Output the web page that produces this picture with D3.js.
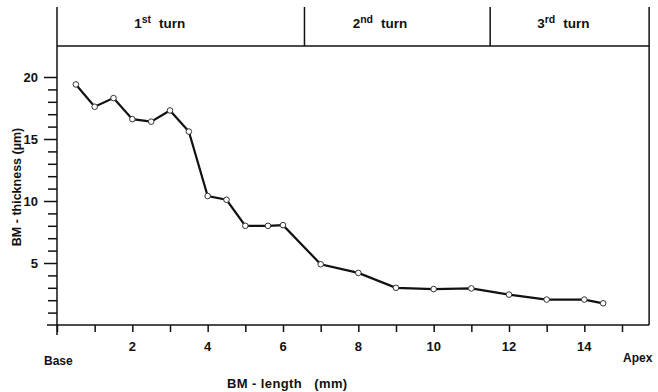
<!DOCTYPE html>
<html>
<head>
<meta charset="utf-8">
<script src="https://cdn.jsdelivr.net/npm/d3@7"></script>
<style>
  body { margin: 0; background: #fff; }
  text { font-family: "Liberation Sans", Arial, sans-serif; font-weight: bold; fill: #111; }
</style>
</head>
<body>
<svg width="658" height="392"></svg>
<script>
// data
const lengthMm = [0.5, 1, 1.5, 2, 2.5, 3, 3.5, 4, 4.5, 5, 5.6, 6, 7, 8, 9, 10, 11, 12, 13, 14, 14.5];
const thicknessUm = [19.4, 17.6, 18.3, 16.6, 16.4, 17.3, 15.6, 10.4, 10.1, 8.0, 8.0, 8.05, 4.9, 4.2, 3.0, 2.9, 2.95, 2.45, 2.05, 2.05, 1.75];

const xTickLabels = [2, 4, 6, 8, 10, 12, 14];
const yTickLabels = [5, 10, 15, 20];

// cochlear turns (band edges in mm)
const turnNames = ['1', '2', '3'];
const turnSuffix = ['st', 'nd', 'rd'];
const turnEdges = [0, 6.57, 11.5, 15.72];
const turnLabelAt = [2.05, 7.85, 12.75];

const svg = d3.select('svg');

const x = d3.scaleLinear().domain([0, 15]).range([57, 622]);
const y = d3.scaleLinear().domain([0, 20]).range([325, 77]);

const bandBottom = 46, bandTop = 7, xEnd = x(turnEdges[3]);

// frame
const frameG = svg.append('g').attr('stroke', '#111').attr('stroke-width', 1.5);
frameG.append('line').attr('x1', x(0) - 10).attr('x2', xEnd).attr('y1', y(0)).attr('y2', y(0));
frameG.append('line').attr('x1', x(0)).attr('x2', x(0)).attr('y1', bandTop).attr('y2', y(0) + 10);
frameG.append('line').attr('x1', xEnd).attr('x2', xEnd).attr('y1', bandTop).attr('y2', y(0));
frameG.append('line').attr('x1', x(0)).attr('x2', xEnd).attr('y1', bandBottom).attr('y2', bandBottom);
frameG.selectAll('line.div')
    .data(turnEdges.slice(1, 3))
    .join('line')
    .attr('class', 'div')
    .attr('x1', d => x(d)).attr('x2', d => x(d))
    .attr('y1', bandTop).attr('y2', bandBottom);

// turn labels
const turnG = svg.append('g');
turnNames.forEach((n, i) => {
    const t = turnG.append('text')
        .attr('x', x(turnLabelAt[i]))
        .attr('y', 28)
        .attr('font-size', 13.5);
    t.append('tspan').text(n);
    t.append('tspan').attr('dy', -5).attr('font-size', 10.5).text(turnSuffix[i]);
    t.append('tspan').attr('dy', 5).attr('dx', 8).text('turn');
});

// x axis
const xAxisG = svg.append('g')
    .attr('transform', `translate(0,${y(0)})`)
    .call(d3.axisBottom(x).tickValues(d3.range(0, 16)).tickSize(7).tickFormat(''));
xAxisG.select('.domain').remove();
xAxisG.selectAll('.tick line').attr('stroke', '#111').attr('stroke-width', 1.5);

svg.append('g').selectAll('text')
    .data(xTickLabels)
    .join('text')
    .attr('x', d => x(d))
    .attr('y', 351)
    .attr('text-anchor', 'middle')
    .attr('font-size', 13)
    .text(d => d);

// y axis
const yAxisG = svg.append('g')
    .attr('transform', `translate(${x(0)},0)`)
    .call(d3.axisLeft(y).tickValues(d3.range(1, 21)).tickSize(9).tickFormat(''));
yAxisG.select('.domain').remove();
yAxisG.selectAll('.tick line')
    .attr('stroke', '#111').attr('stroke-width', 1.5)
    .attr('x2', d => yTickLabels.includes(d) ? -13 : -9);

svg.append('g').selectAll('text')
    .data(yTickLabels)
    .join('text')
    .attr('x', 38)
    .attr('y', d => y(d))
    .attr('dy', '0.35em')
    .attr('text-anchor', 'end')
    .attr('font-size', 13)
    .text(d => d);

// axis titles
svg.append('text')
    .attr('transform', 'translate(21,187) rotate(-90)')
    .attr('text-anchor', 'middle')
    .attr('font-size', 12.5)
    .text('BM - thickness  (\u00b5m)');

svg.append('text')
    .attr('x', 227).attr('y', 388)
    .attr('font-size', 13)
    .attr('letter-spacing', 0.4)
    .attr('xml:space', 'preserve')
    .text('BM - length   (mm)');

svg.append('text').attr('x', 44).attr('y', 365).attr('font-size', 12).text('Base');
svg.append('text').attr('x', 623).attr('y', 362).attr('font-size', 12).text('Apex');

// line + markers
const points = lengthMm.map((d, i) => [d, thicknessUm[i]]);

svg.append('path')
    .datum(points)
    .attr('fill', 'none')
    .attr('stroke', '#111')
    .attr('stroke-width', 2.2)
    .attr('d', d3.line().x(d => x(d[0])).y(d => y(d[1])));

svg.append('g').selectAll('circle')
    .data(points)
    .join('circle')
    .attr('cx', d => x(d[0]))
    .attr('cy', d => y(d[1]))
    .attr('r', 2.8)
    .attr('fill', '#fff')
    .attr('stroke', '#333')
    .attr('stroke-width', 1);
</script>
</body>
</html>
